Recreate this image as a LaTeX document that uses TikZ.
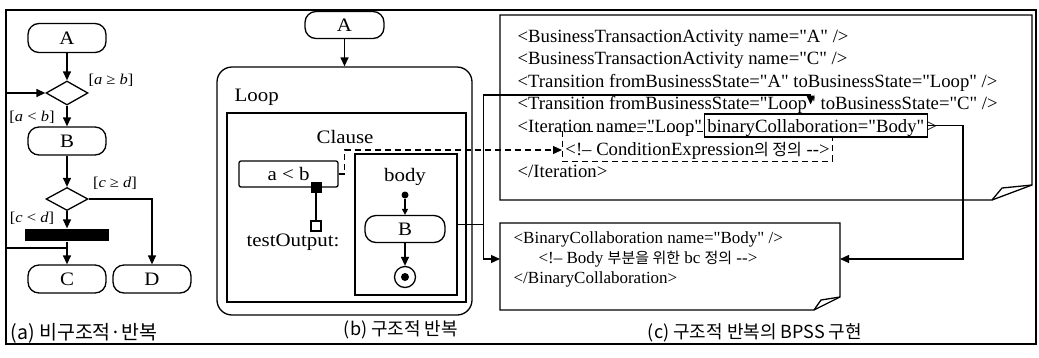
\documentclass[tikz,border=0pt]{standalone}
\usepackage{fontspec}
\setmainfont{Liberation Serif}[FakeStretch=1.1]
\newfontfamily\xmlfont{Liberation Serif}[Ligatures=TeXOff]
\newfontfamily\kr{Noto Sans CJK KR}
\usetikzlibrary{arrows.meta,shapes.geometric,calc}
\newcommand\fsz[1]{\fontsize{#1}{#1}\selectfont}
\begin{document}
\begin{tikzpicture}[x=1pt,y=-1pt,line width=1.3pt,
  rr/.style={draw, rounded corners=11pt, minimum width=78pt, minimum height=29pt, inner sep=0pt, font=\fsz{19}},
  dia/.style={draw, diamond, minimum width=42pt, minimum height=24pt, inner sep=0pt},
  arr/.style={-{Triangle[length=9pt,width=8pt]}},
  sarr/.style={-{Triangle[length=6pt,width=6pt]}},
  lbl/.style={font=\fsz{15}, inner sep=0pt},
  txt/.style={font=\fsz{19}, inner sep=0pt},
  xml/.style={font=\xmlfont\fsz{18.7}, inner sep=0pt, anchor=base west},
  xmls/.style={font=\xmlfont\fsz{17}, inner sep=0pt, anchor=base west},
  captxt/.style={font=\kr\fsz{18}, inner sep=0pt},
  dsh/.style={dash pattern=on 6pt off 4pt}]
\useasboundingbox (0,0) rectangle (1039,357);
\draw[line width=1.6pt] (6,10) rectangle (1036,344);

% ---------- (a) ----------
\node[rr] (Aa) at (67,38) {A};
\node[dia] (D1) at (67,93) {};
\node[rr, minimum height=28pt] (Ba) at (67,141) {B};
\node[dia, minimum height=23pt] (D2) at (67,199) {};
\node[fill, minimum width=84pt, minimum height=12pt, inner sep=0pt] (bar) at (67,235) {};
\node[rr, minimum height=28pt] (Ca) at (67,279) {C};
\node[rr, minimum height=28pt] (Da) at (152,279) {D};
\coordinate (loopL) at (6,248);
\coordinate (loopB) at (67,248);
\draw[arr] (Aa.south) -- (D1.north);
\draw[arr] (D1.south) -- (Ba.north);
\draw[arr] (Ba.south) -- (D2.north);
\draw[arr] (D2.south) -- (bar.north);
\draw[arr] (bar.south) -- (Ca.north);
\draw[arr] (D2.east) -| (Da.north);
\draw[arr] (loopB) -- (loopL) |- (D1.west);
\node[lbl] (la1) at (111,80) {[\textit{a} ≥ \textit{b}]};
\node[lbl] (la2) at (32,117) {[\textit{a} < \textit{b}]};
\node[lbl] (la3) at (115,183) {[\textit{c} ≥ \textit{d}]};
\node[lbl] (la4) at (32,218) {[\textit{c} < \textit{d}]};
\node[captxt, anchor=west, font=\kr\fsz{19.5}] (capa) at (10,333) {(a) 비구조적·반복};

% ---------- (b) ----------
\node[rr, minimum width=79pt, minimum height=27pt] (Ab) at (344.5,25) {A};
\node[draw, rounded corners=15pt, minimum width=255pt, minimum height=248pt, inner sep=0pt] (loop) at (344.5,191) {};
\draw[arr] (Ab.south) -- (loop.north);
\node[txt, anchor=west] (looplbl) at (234,97) {Loop};
\node[draw, minimum width=239pt, minimum height=189pt, inner sep=0pt] (clause) at (346.5,207.5) {};
\node[txt] (clauselbl) at (345,137) {Clause};
\node[draw, rounded corners=2pt, minimum width=99pt, minimum height=26pt, inner sep=0pt, font=\fsz{19}] (ab) at (288.5,174) {a < b};
\node[fill, minimum size=11pt, inner sep=0pt] (pin) at (316,187) {};
\node[draw, fill=white, minimum size=10pt, inner sep=0pt] (outpin) at (316,226) {};
\draw (pin.south) -- (outpin.north);
\node[txt] (tolbl) at (293,242) {testOutput:};
\node[draw, minimum width=102pt, minimum height=141pt, inner sep=0pt] (body) at (406,224.5) {};
\node[txt] (bodylbl) at (405,177) {body};
\node[circle, fill, minimum size=7pt, inner sep=0pt] (init) at (405,195) {};
\node[rr, minimum width=80pt, minimum height=27pt] (Bb) at (405,229) {B};
\node[circle, draw, minimum size=21pt, inner sep=0pt] (fin) at (405,277) {};
\node[circle, fill, minimum size=8pt, inner sep=0pt] (finin) at (405,277) {};
\draw[sarr] (init.south) -- (Bb.north);
\draw[arr] (Bb.south) -- (fin.north);
\node[captxt] (capb) at (401,330) {(b) 구조적 반복};

% ---------- (c) ----------
\draw (500,15) -- (1032,15) -- (1032,185) -- (992,200) -- (500,200) -- cycle;
\draw (1032,185) -- (1002,188) -- (992,200);
\draw (500,223) -- (840,223) -- (840,297) -- (814,310) -- (500,310) -- cycle;
\draw (840,297) -- (821,300) -- (814,310);

\node[xml] (L1) at (517,42) {<BusinessTransactionActivity name="A" />};
\node[xml] (L2) at (517,64.5) {<BusinessTransactionActivity name="C" />};
\node[xml] (L3) at (517,87) {<Transition fromBusinessState="A" toBusinessState="Loop" />};
\node[xml] (L4a) at (517,109.5) {<Transition fromBusinessState="Loop};
\node[xml] (L4b) at (L4a.base east) {" toBusinessState="C" />};
\node[xml] (L5a) at (517,132) {<Iteration name="Loop"};
\node[xml, draw, dsh, line width=0.9pt, inner xsep=3pt, inner ysep=0pt, text height=24pt, text depth=6pt] (L6) at (562,155) {<!– ConditionExpression{\kr\fsz{16}의 정의} -->\hspace{8pt}};
\node[xml, draw, fill=white, inner xsep=3pt, inner ysep=0pt, text height=18pt, text depth=5pt] (L5b) at ($(L5a.base east)+(1,0)$) {binaryCollaboration="Body"};
\node[xml] (L5c) at ($(L5b.base east)+(-2,0)$) {>};
\node[xml] (L7) at (517,177) {</Iteration>};

\node[xmls] (M1) at (513,243.5) {<BinaryCollaboration name="Body" />};
\node[xmls] (M2) at (538,263.5) {<!– Body {\kr\fsz{15}부분을 위한} bc {\kr\fsz{15}정의} -->};
\node[xmls] (M3) at (513,283) {</BinaryCollaboration>};
\node[captxt] (capc) at (755,333) {(c) 구조적 반복의 BPSS 구현};

% connectors
\coordinate (jn) at ($(body.east)+(26,0)$);
\coordinate (y95) at (0,95);
\coordinate (L4tip) at ($(L4a.base east)+(3,-5)$);
\coordinate (L4top) at (L4tip |- y95);
\coordinate (b2w) at (500,259);
\coordinate (b2e) at (840,259);
\coordinate (c3) at (963,259);
\coordinate (dk) at ($(ab.east)+(6,0)$);
\coordinate (L6in) at ($(L6.base west)+(0,-5)$);
\draw (body.east) -- (jn);
\draw[arr] (jn) |- (L4top) -- (L4tip);
\draw[arr] (jn) |- (b2w);
\draw[arr] (L5b.east) -| (c3) -- (b2e);
\draw[arr, dsh] (ab.east) -- (dk) |- (L6in);
\end{tikzpicture}
\end{document}
